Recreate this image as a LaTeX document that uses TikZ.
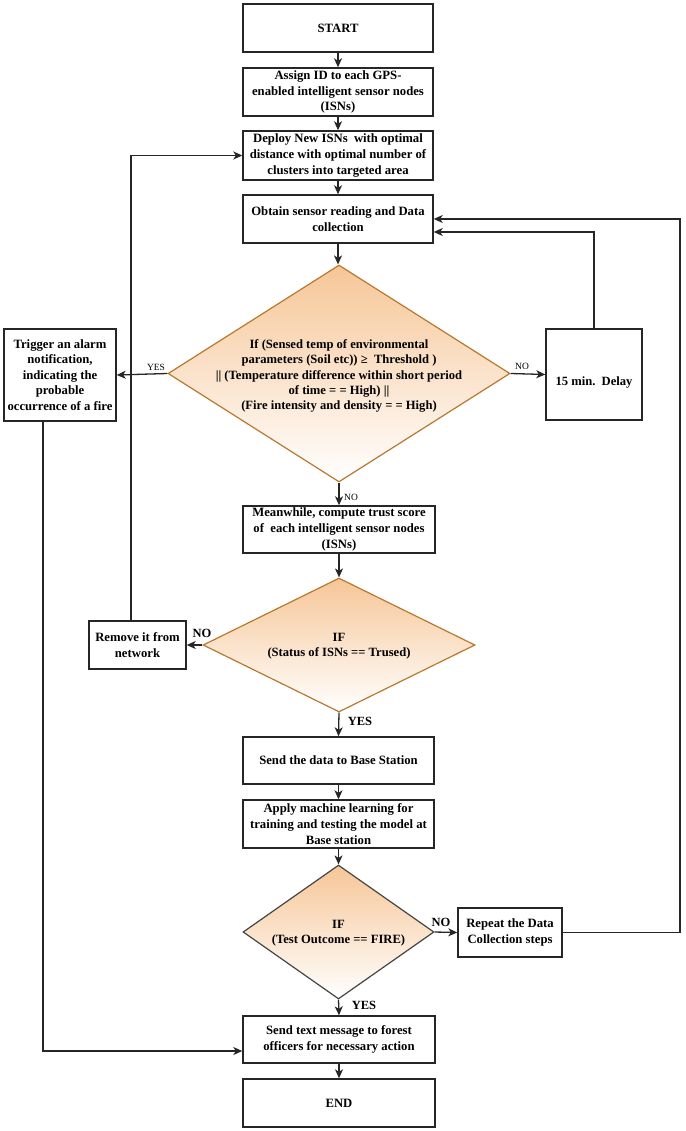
\documentclass[tikz,border=0pt]{standalone}
\usepackage{fontspec}
\setmainfont{Liberation Serif}
\usetikzlibrary{shapes.geometric,arrows.meta}
\definecolor{dorange}{HTML}{F6C697}
\definecolor{dedge}{HTML}{B8782E}
\definecolor{dgray}{HTML}{454545}
\tikzset{
  every picture/.style={x=1pt,y=-1pt},
  box/.style={draw=black!85,line width=1.4pt,fill=white,inner sep=0pt,align=center,
    font=\fontsize{12.7}{15.6}\selectfont\bfseries},
  dia/.style={diamond,draw=dedge,line width=1.2pt,inner sep=0pt,top color=dorange,bottom color=white},
  dtext/.style={align=center,inner sep=0pt,font=\fontsize{12.6}{15.3}\selectfont\bfseries},
  conn/.style={line width=1.3pt,draw=black!85,-{Stealth[length=9pt,width=8pt,inset=2.5pt]}},
  slab/.style={inner sep=0pt,font=\fontsize{9.5}{11}\selectfont},
  blab/.style={inner sep=0pt,font=\fontsize{12.5}{14}\selectfont\bfseries},
}
\begin{document}
\begin{tikzpicture}
\useasboundingbox (0,0) rectangle (685,1131);
% boxes
\node[box,minimum width=190pt,minimum height=48pt] (start) at (338,28) {START};
\node[box,minimum width=190pt,minimum height=48pt] (assign) at (338,92) {Assign ID to each GPS-\\enabled intelligent sensor nodes\\(ISNs)};
\node[box,minimum width=190pt,minimum height=49pt] (deploy) at (338,155.5) {Deploy New ISNs\ \ with optimal\\distance with optimal number of\\clusters into targeted area};
\node[box,minimum width=190pt,minimum height=48pt] (obtain) at (338,219) {Obtain sensor reading and Data\\collection};
% diamond 1
\node[dia,minimum width=342pt,minimum height=217pt] (d1) at (339,373.5) {};
\node[dtext] (d1t) at (339,376) {If (Sensed temp of environmental\\parameters (Soil etc)) ≥\ \ Threshold )\\|| (Temperature difference within short period\\of time = = High) ||\\(Fire intensity and density = = High)};
\node[box,minimum width=112pt,minimum height=92pt] (trigger) at (60,375) {Trigger an alarm\\notification,\\indicating the\\probable\\occurrence of a fire};
\node[box,minimum width=96pt,minimum height=91pt] (delay) at (594,374.5) {};
\node[dtext] (delayt) at (594,382) {15 min.\ \ Delay};
\node[box,minimum width=192pt,minimum height=47pt] (mean) at (339,529.5) {Meanwhile, compute trust score\\of\ \ each intelligent sensor nodes\\(ISNs)};
% diamond 2
\node[dia,minimum width=272pt,minimum height=134pt] (d2) at (339,645) {};
\node[dtext] (d2t) at (339,646) {IF\\(Status of ISNs == Trused)};
\node[box,minimum width=97pt,minimum height=48pt] (remove) at (137.5,645) {Remove it from\\network};
\node[box,minimum width=191pt,minimum height=47pt] (senddata) at (338.5,760.5) {Send the data to Base Station};
\node[box,minimum width=191pt,minimum height=48pt] (apply) at (338.5,824) {Apply machine learning for\\training and testing the model at\\Base station};
% diamond 3
\node[dia,draw=dgray,minimum width=191pt,minimum height=134pt] (d3) at (338.5,932) {};
\node[dtext] (d3t) at (338.5,933.5) {IF\\(Test Outcome == FIRE)};
\node[box,minimum width=104pt,minimum height=49pt] (repeat) at (510,932.5) {Repeat the Data\\Collection steps};
\node[box,minimum width=192pt,minimum height=47pt] (sendtext) at (339,1039.5) {Send text message to forest\\officers for necessary action};
\node[box,minimum width=192pt,minimum height=48pt] (endn) at (339,1103) {END};
% main flow
\draw[conn] (start) -- (assign);
\draw[conn] (assign) -- (deploy);
\draw[conn] (deploy) -- (obtain);
\draw[conn] (obtain.south) -- (obtain.south |- d1.north);
\draw[conn] (d1.south) -- (mean.north);
\draw[conn] (mean) -- (d2.north);
\draw[conn] (d2.south) -- (senddata.north);
\draw[conn] (senddata) -- (apply);
\draw[conn] (apply) -- (d3.north);
\draw[conn] (d3.south) -- (sendtext.north);
\draw[conn] (sendtext) -- (endn);
% branches
\draw[conn] (d1.west) -- (trigger.east);
\draw[conn] (d1.east) -- (delay.west);
\draw[conn] (d2.west) -- (remove.east);
\draw[conn] (d3.east) -- (repeat.west);
% loops
\coordinate (dl1) at (594,232);
\draw[conn] (delay.north) -- (dl1) -- (dl1 -| obtain.east);
\coordinate (rp1) at (680,932.5);
\coordinate (rp2) at (680,219);
\draw[conn] (repeat.east) -- (rp1) -- (rp2) -- (obtain.east);
\coordinate (rm0) at (131,621);
\coordinate (rm1) at (131,155.5);
\draw[conn] (rm0) -- (rm1) -- (deploy.west);
\coordinate (tg0) at (43,421);
\coordinate (tg1) at (43,1051);
\draw[conn] (tg0) -- (tg1) -- (tg1 -| sendtext.west);
% labels
\node[slab] (l1) at (156,367) {YES};
\node[slab] (l2) at (522,366) {NO};
\node[slab] (l3) at (351,497) {NO};
\node[blab] (l4) at (202,633) {NO};
\node[blab] (l5) at (360,721) {YES};
\node[blab] (l6) at (441,922) {NO};
\node[blab] (l7) at (364,1005) {YES};
\end{tikzpicture}
\end{document}
